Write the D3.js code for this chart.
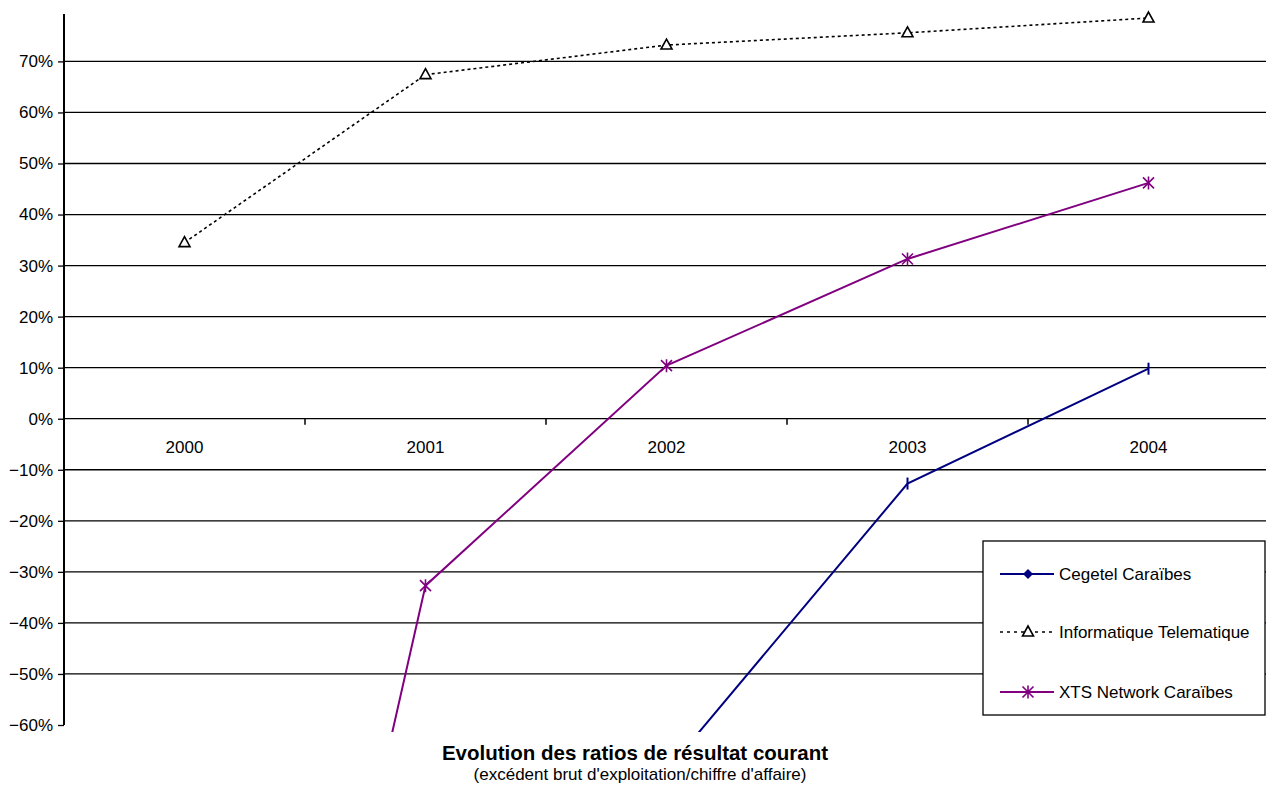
<!DOCTYPE html>
<html><head><meta charset="utf-8">
<script src="https://cdn.jsdelivr.net/npm/d3@7"></script>
<style>body{margin:0;background:#fff}svg{display:block}text{font-family:"Liberation Sans",Arial,sans-serif}</style>
</head><body>
<svg id="c" width="1266" height="787"></svg>
<script>
const years = ["2000","2001","2002","2003","2004"];
const cegetel = [null, null, -0.69, -0.127, 0.098];
const informatique = [0.345, 0.674, 0.732, 0.756, 0.785];
const xts = [-2.41, -0.327, 0.104, 0.313, 0.462];
const yTicks = [-0.6,-0.5,-0.4,-0.3,-0.2,-0.1,0,0.1,0.2,0.3,0.4,0.5,0.6,0.7];
const seriesNames = ["Cegetel Caraïbes","Informatique Telematique","XTS Network Caraïbes"];
const title = "Evolution des ratios de résultat courant";
const subtitle = "(excédent brut d'exploitation/chiffre d'affaire)";

(function(){
const svg = d3.select("#c");
const pL = 64, pR = 1269, pT = 14, pB = 725;
const FS = 17;
const y = d3.scaleLinear().domain([-0.6, 0.7]).range([725, 61.4]);
const x = d3.scaleBand().domain(years).range([pL, pR]);
const xc = d => x(d) + x.bandwidth()/2;

svg.append("clipPath").attr("id","clip").append("rect").attr("x",pL).attr("y",0).attr("width",1266-pL).attr("height",732);

svg.append("g").selectAll("line").data(yTicks.filter(v=>v>-0.6)).join("line")
  .attr("x1",pL).attr("x2",1266).attr("y1",d=>y(d)).attr("y2",d=>y(d))
  .attr("stroke","#000").attr("stroke-width",1.3);

const yAxis = d3.axisLeft(y).tickValues(yTicks).tickFormat(d3.format(".0%")).tickSize(6).tickSizeOuter(0);
const ga = svg.append("g").attr("transform",`translate(${pL},0)`).call(yAxis);
ga.select(".domain").remove();
ga.selectAll(".tick line").attr("stroke","#000").attr("stroke-width",1.3);
ga.selectAll(".tick text").attr("font-size",FS).attr("fill","#000").attr("x",-11).attr("font-family","Liberation Sans, Arial, sans-serif");
svg.append("line").attr("x1",pL).attr("x2",pL).attr("y1",pT).attr("y2",pB).attr("stroke","#000").attr("stroke-width",2);

const xAxis = d3.axisBottom(x).tickSize(0);
const gx = svg.append("g").attr("transform",`translate(0,${y(0)})`).call(xAxis);
gx.select(".domain").remove();
gx.selectAll(".tick text").attr("font-size",FS).attr("fill","#000").attr("y",22).attr("dy","0.71em").attr("font-family","Liberation Sans, Arial, sans-serif");
svg.append("g").selectAll("line").data(years.slice(1)).join("line")
  .attr("x1",d=>x(d)).attr("x2",d=>x(d)).attr("y1",y(0)).attr("y2",y(0)+6)
  .attr("stroke","#000").attr("stroke-width",1.5);

const plot = svg.append("g").attr("clip-path","url(#clip)");
const line = d3.line().defined(d=>d[1]!==null).x(d=>xc(d[0])).y(d=>y(d[1]));
const zip = arr => years.map((yr,i)=>[yr,arr[i]]);

plot.append("path").datum(zip(cegetel)).attr("d",line).attr("fill","none").attr("stroke","#000080").attr("stroke-width",2);
plot.append("path").datum(zip(xts)).attr("d",line).attr("fill","none").attr("stroke","#800080").attr("stroke-width",2);
plot.append("path").datum(zip(informatique)).attr("d",line).attr("fill","none").attr("stroke","#000").attr("stroke-width",1.6).attr("stroke-dasharray","3,3");

function tri(g,cx,cy){ g.append("path").attr("d",`M${cx},${cy-6}L${cx+5.5},${cy+4}L${cx-5.5},${cy+4}Z`).attr("fill","#fff").attr("stroke","#000").attr("stroke-width",1.6); }
function star(g,cx,cy,col){ const s=5.5; g.append("path").attr("d",`M${cx},${cy-s-1}V${cy+s+1}M${cx-s},${cy-s}L${cx+s},${cy+s}M${cx+s},${cy-s}L${cx-s},${cy+s}`).attr("stroke",col).attr("stroke-width",1.6).attr("fill","none"); }
function tick(g,cx,cy,col){ g.append("line").attr("x1",cx).attr("x2",cx).attr("y1",cy-6).attr("y2",cy+6).attr("stroke",col).attr("stroke-width",2); }
function diamond(g,cx,cy,col){ g.append("path").attr("d",`M${cx},${cy-5}L${cx+5},${cy}L${cx},${cy+5}L${cx-5},${cy}Z`).attr("fill",col); }

const mk = svg.append("g").attr("clip-path","url(#clip)");
zip(cegetel).filter(d=>d[1]!==null).forEach(d=>tick(mk,xc(d[0]),y(d[1]),"#000080"));
zip(xts).forEach(d=>star(mk,xc(d[0]),y(d[1]),"#800080"));
zip(informatique).forEach(d=>tri(mk,xc(d[0]),y(d[1])));

const lg = svg.append("g");
lg.append("rect").attr("x",983).attr("y",541).attr("width",282).attr("height",174).attr("fill","#fff").attr("stroke","#000").attr("stroke-width",1.3);
const ly = [574, 632, 692];
const cols = ["#000080","#000","#800080"];
seriesNames.forEach((n,i)=>{
  const l = lg.append("line").attr("x1",1000).attr("x2",1054).attr("y1",ly[i]).attr("y2",ly[i]).attr("stroke",cols[i]).attr("stroke-width",i===1?1.3:2);
  if(i===1) l.attr("stroke-dasharray","3,4");
  if(i===0) diamond(lg,1028,ly[i],cols[i]);
  if(i===1) tri(lg,1028,ly[i]);
  if(i===2) star(lg,1028,ly[i],cols[i]);
  lg.append("text").attr("x",1059).attr("y",ly[i]+6).attr("font-size",FS).attr("fill","#000").text(n);
});

svg.append("text").attr("x",635).attr("y",760).attr("text-anchor","middle").attr("font-size",20.5).attr("font-weight","bold").text(title);
svg.append("text").attr("x",640).attr("y",780).attr("text-anchor","middle").attr("font-size",17).text(subtitle);
})();
</script>
</body></html>
